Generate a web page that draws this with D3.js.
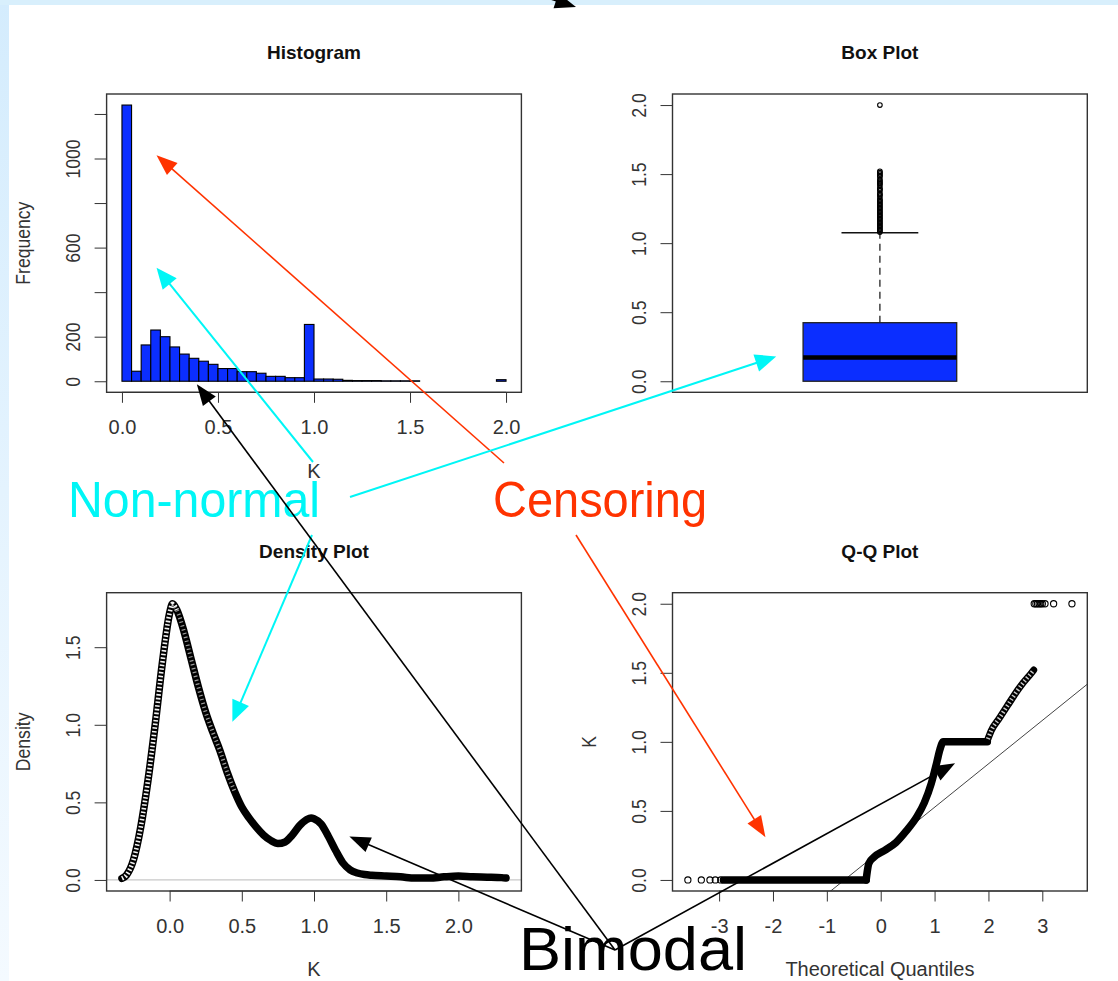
<!DOCTYPE html>
<html>
<head>
<meta charset="utf-8">
<script src="https://cdn.jsdelivr.net/npm/d3@7"></script>
<style>
  html, body { margin: 0; padding: 0; background: #fff; }
  svg { display: block; }
  text { font-family: "Liberation Sans", Arial, Helvetica, sans-serif; }
</style>
</head>
<body>
<svg id="chart" width="1118" height="981"></svg>
<script>
// ---------------- data ----------------
// Histogram of K: counts per 0.05-wide bin from 0 to 2
const histBinWidth = 0.05;
const histCounts = [1240, 45, 163, 230, 200, 154, 122, 103, 90, 76,
                    57, 57, 43, 43, 36, 22, 22, 16, 16, 255,
                    10, 10, 9, 4, 3, 3, 3, 2, 2, 2,
                    2, 0, 0, 0, 0, 0, 0, 0, 0, 7];
const histYTicks = [0, 200, 400, 600, 800, 1000, 1200];
const histYLabels = [0, 200, 600, 1000];
const kTicks = [0, 0.5, 1, 1.5, 2];

// Box plot summary of K
const boxHinges = [0, 0.424];
const boxMedian = 0.172;
const boxWhiskers = [0, 1.075];
const boxOutliers = [1.08, 1.09, 1.10, 1.11, 1.12, 1.13, 1.14, 1.15, 1.16, 1.17, 1.18, 1.19,
                     1.20, 1.21, 1.22, 1.23, 1.24, 1.25, 1.26, 1.27, 1.28, 1.29, 1.30,
                     1.31, 1.32, 1.34, 1.35, 1.36, 1.38, 1.39, 1.40, 1.42, 1.43, 1.44,
                     1.45, 1.46, 1.48, 1.49, 1.50, 1.51, 1.52, 2.0];
const boxTicks = [0, 0.5, 1, 1.5, 2];

// Kernel density estimate of K
const densityK = [-0.33, -0.30, -0.25, -0.20, -0.15, -0.10, -0.05, 0.00, 0.02, 0.05,
                  0.10, 0.15, 0.20, 0.25, 0.30, 0.35, 0.40, 0.45, 0.50, 0.55,
                  0.60, 0.65, 0.70, 0.75, 0.80, 0.85, 0.90, 0.95, 0.98, 1.00,
                  1.05, 1.10, 1.15, 1.20, 1.25, 1.30, 1.35, 1.40, 1.50, 1.60,
                  1.70, 1.80, 1.90, 2.00, 2.10, 2.20, 2.30, 2.33];
const densityValues = [0.01, 0.03, 0.13, 0.34, 0.64, 1.00, 1.40, 1.72, 1.78, 1.74,
                       1.60, 1.42, 1.24, 1.08, 0.95, 0.83, 0.69, 0.57, 0.47, 0.40,
                       0.34, 0.29, 0.255, 0.235, 0.245, 0.29, 0.35, 0.39, 0.40, 0.395,
                       0.36, 0.28, 0.19, 0.11, 0.065, 0.045, 0.035, 0.03, 0.025, 0.02,
                       0.012, 0.012, 0.02, 0.025, 0.02, 0.018, 0.015, 0.012];
const densityYTicks = [0, 0.5, 1, 1.5];

// Normal Q-Q plot of K
const qqLowTail = [-3.58, -3.33, -3.17, -3.07, -2.97];          // sample K = 0
const qqZeroRun = [-2.92, -0.27];                                 // sample K = 0
const qqCurveTheo = [-0.27, -0.25, -0.22, -0.125, 0.075, 0.28, 0.475, 0.675, 0.81, 0.94, 1.04, 1.10, 1.16, 1.20, 1.98];
const qqCurveK    = [0.0, 0.06, 0.12, 0.165, 0.215, 0.27, 0.355, 0.46, 0.56, 0.70, 0.85, 0.945, 1.0, 1.0, 1.0];
const qqUpperTheo = [1.99, 2.05, 2.2, 2.35, 2.5, 2.65, 2.8, 2.84];
const qqUpperK    = [1.02, 1.08, 1.17, 1.26, 1.35, 1.43, 1.50, 1.52];
const qqHighTail = [2.85, 2.88, 2.91, 2.94, 2.97, 3.0, 3.05, 3.21, 3.55]; // sample K = 2
const qqQuartileTheo = [-0.6745, 0.6745];
const qqQuartileK = [0, 0.424];
const qqXTicks = [-3, -2, -1, 0, 1, 2, 3];
const qqYTicks = [0, 0.5, 1, 1.5, 2];

// ---------------- layout ----------------
const W = 1118, H = 981;
const colLeft = [106.6, 672.5];
const rowTop = [94, 592.7];
const boxW = 414.8, boxH = 298.3;
const BLUE = "#0b2eff";
const fontTick = 20;

const svg = d3.select("#chart");
const defs = svg.append("defs");

// page background: pale blue frame with a white sheet
const grad = defs.append("linearGradient").attr("id", "frameGrad")
  .attr("x1", 0).attr("y1", 0).attr("x2", 0).attr("y2", 1);
grad.append("stop").attr("offset", 0).attr("stop-color", "#d4ecfd");
grad.append("stop").attr("offset", 1).attr("stop-color", "#f4faff");
svg.append("rect").attr("width", W).attr("height", H).attr("fill", "url(#frameGrad)");
svg.append("rect").attr("width", W).attr("height", 5).attr("fill", "#d8effc");
svg.append("rect").attr("x", 9).attr("y", 5).attr("width", W - 9).attr("height", H - 5).attr("fill", "#fff");

// R-style 4% range extension
const ext = ([a, b]) => [a - 0.04 * (b - a), b + 0.04 * (b - a)];

function makePanel(col, row, name, xdom, ydom) {
  const left = colLeft[col], top = rowTop[row];
  const x = d3.scaleLinear().domain(ext(xdom)).range([left, left + boxW]);
  const y = d3.scaleLinear().domain(ext(ydom)).range([top + boxH, top]);
  const cid = "clip-" + name;
  defs.append("clipPath").attr("id", cid)
    .append("rect").attr("x", left).attr("y", top).attr("width", boxW).attr("height", boxH);
  const g = svg.append("g");
  const plot = g.append("g").attr("clip-path", `url(#${cid})`);
  return { left, top, x, y, g, plot };
}

function frame(p, title) {
  p.g.append("rect").attr("x", p.left).attr("y", p.top).attr("width", boxW).attr("height", boxH)
    .attr("fill", "none").attr("stroke", "#333").attr("stroke-width", 1.4);
  p.g.append("text").attr("x", p.left + boxW / 2).attr("y", p.top - 35)
    .attr("text-anchor", "middle").attr("font-weight", "bold").attr("font-size", 19)
    .attr("fill", "#111").text(title);
}

function xAxis(p, ticks, fmt, label) {
  const ax = d3.axisBottom(p.x).tickValues(ticks).tickSize(10.5).tickSizeOuter(0).tickFormat(fmt);
  const g = p.g.append("g").attr("transform", `translate(0,${p.top + boxH})`).call(ax);
  g.select(".domain").remove();
  g.append("line").attr("x1", p.x(ticks[0])).attr("x2", p.x(ticks[ticks.length - 1]))
    .attr("stroke", "#333");
  g.selectAll(".tick line").attr("stroke", "#333");
  g.selectAll(".tick text").attr("y", 35).attr("dy", "0.36em")
    .attr("font-size", fontTick).attr("fill", "#333")
    .attr("font-family", '"Liberation Sans", Arial, sans-serif');
  if (label) {
    p.g.append("text").attr("x", p.left + boxW / 2).attr("y", p.top + boxH + 78).attr("dy", "0.36em")
      .attr("text-anchor", "middle").attr("font-size", fontTick).attr("fill", "#333").text(label);
  }
}

function yAxis(p, ticks, fmt, label) {
  const ax = d3.axisLeft(p.y).tickValues(ticks).tickSize(12).tickSizeOuter(0).tickFormat(fmt);
  const g = p.g.append("g").attr("transform", `translate(${p.left},0)`).call(ax);
  g.select(".domain").remove();
  g.append("line").attr("y1", p.y(ticks[0])).attr("y2", p.y(ticks[ticks.length - 1]))
    .attr("stroke", "#333");
  g.selectAll(".tick line").attr("stroke", "#333");
  g.selectAll(".tick text")
    .attr("x", 0).attr("y", 0)
    .attr("transform", "translate(-34,0) rotate(-90) scale(0.88,1)")
    .attr("text-anchor", "middle").attr("dy", "0.36em")
    .attr("font-size", fontTick).attr("fill", "#333")
    .attr("font-family", '"Liberation Sans", Arial, sans-serif');
  if (label) {
    p.g.append("text")
      .attr("transform", `translate(${p.left - 84},${p.top + boxH / 2}) rotate(-90) scale(0.88,1)`)
      .attr("text-anchor", "middle").attr("dy", "0.36em")
      .attr("font-size", fontTick).attr("fill", "#333").text(label);
  }
}

const fmt1 = d => d3.format(".1f")(d);

// ---------------- Histogram ----------------
const hist = makePanel(0, 0, "hist", [0, 2], [0, d3.max(histCounts)]);
hist.plot.selectAll("rect.bar").data(histCounts).join("rect").attr("class", "bar")
  .attr("x", (d, i) => hist.x(i * histBinWidth))
  .attr("width", (d, i) => hist.x((i + 1) * histBinWidth) - hist.x(i * histBinWidth))
  .attr("y", d => hist.y(d))
  .attr("height", d => hist.y(0) - hist.y(d))
  .attr("fill", BLUE).attr("stroke", "#000").attr("stroke-width", 1.1);
frame(hist, "Histogram");
xAxis(hist, kTicks, fmt1, "K");
yAxis(hist, histYTicks, d => histYLabels.includes(d) ? String(d) : "", "Frequency");

// ---------------- Box plot ----------------
const bp = makePanel(1, 0, "box", [0.5, 1.5], [0, 2]);
const boxCenter = 1, boxHalf = 0.2, stapleHalf = 0.1;
bp.plot.append("line")
  .attr("x1", bp.x(boxCenter)).attr("x2", bp.x(boxCenter))
  .attr("y1", bp.y(boxHinges[1])).attr("y2", bp.y(boxWhiskers[1]))
  .attr("stroke", "#222").attr("stroke-width", 1.3).attr("stroke-dasharray", "7,5");
bp.plot.append("line")
  .attr("x1", bp.x(boxCenter - stapleHalf)).attr("x2", bp.x(boxCenter + stapleHalf))
  .attr("y1", bp.y(boxWhiskers[1])).attr("y2", bp.y(boxWhiskers[1]))
  .attr("stroke", "#111").attr("stroke-width", 1.6);
bp.plot.append("rect")
  .attr("x", bp.x(boxCenter - boxHalf)).attr("width", bp.x(boxCenter + boxHalf) - bp.x(boxCenter - boxHalf))
  .attr("y", bp.y(boxHinges[1])).attr("height", bp.y(boxHinges[0]) - bp.y(boxHinges[1]))
  .attr("fill", BLUE).attr("stroke", "#222").attr("stroke-width", 1.3);
bp.plot.append("line")
  .attr("x1", bp.x(boxCenter - boxHalf)).attr("x2", bp.x(boxCenter + boxHalf))
  .attr("y1", bp.y(boxMedian)).attr("y2", bp.y(boxMedian))
  .attr("stroke", "#000").attr("stroke-width", 4.5);
bp.plot.selectAll("circle.out").data(boxOutliers).join("circle").attr("class", "out")
  .attr("cx", bp.x(boxCenter)).attr("cy", d => bp.y(d)).attr("r", 2.3)
  .attr("fill", "none").attr("stroke", "#000").attr("stroke-width", 1.1);
frame(bp, "Box Plot");
yAxis(bp, boxTicks, fmt1, null);

// ---------------- Density plot ----------------
const densityPts = densityK.map((k, i) => [k, densityValues[i]]);
const dp = makePanel(0, 1, "dens", d3.extent(densityK), [0, d3.max(densityValues)]);
dp.plot.append("line").attr("x1", dp.left).attr("x2", dp.left + boxW)
  .attr("y1", dp.y(0)).attr("y2", dp.y(0)).attr("stroke", "#c8c8c8").attr("stroke-width", 1.2);
const dLine = d3.line().x(d => dp.x(d[0])).y(d => dp.y(d[1])).curve(d3.curveMonotoneX);
dp.plot.append("path").attr("d", dLine(densityPts))
  .attr("fill", "none").attr("stroke", "#000").attr("stroke-width", 7.5)
  .attr("stroke-linecap", "round").attr("stroke-linejoin", "round");
// open-circle texture where the curve is steep
dp.plot.append("path").attr("d", dLine(densityPts.filter(d => d[0] <= 0.05)))
  .attr("fill", "none").attr("stroke", "#fff").attr("stroke-width", 4.6)
  .attr("stroke-dasharray", "1.6,2.1").attr("opacity", 0.95);
dp.plot.append("path").attr("d", dLine(densityPts.filter(d => d[0] >= 0.02 && d[0] <= 0.45)))
  .attr("fill", "none").attr("stroke", "#fff").attr("stroke-width", 4)
  .attr("stroke-dasharray", "1.2,2.8").attr("opacity", 0.6);
frame(dp, "Density Plot");
xAxis(dp, kTicks, fmt1, "K");
yAxis(dp, densityYTicks, fmt1, "Density");

// ---------------- Q-Q plot ----------------
const qp = makePanel(1, 1, "qq", [d3.min(qqLowTail), d3.max(qqHighTail)], [0, 2]);
const slope = (qqQuartileK[1] - qqQuartileK[0]) / (qqQuartileTheo[1] - qqQuartileTheo[0]);
const icpt = qqQuartileK[0] - slope * qqQuartileTheo[0];
const [qx0, qx1] = qp.x.domain();
qp.plot.append("line")
  .attr("x1", qp.x(qx0)).attr("y1", qp.y(icpt + slope * qx0))
  .attr("x2", qp.x(qx1)).attr("y2", qp.y(icpt + slope * qx1))
  .attr("stroke", "#444").attr("stroke-width", 1);
const qLine = d3.line().x(d => qp.x(d[0])).y(d => qp.y(d[1]));
const qCurve = d3.line().x(d => qp.x(d[0])).y(d => qp.y(d[1])).curve(d3.curveMonotoneX);
const runStyle = sel => sel.attr("fill", "none").attr("stroke", "#000").attr("stroke-width", 7.5)
  .attr("stroke-linecap", "round").attr("stroke-linejoin", "round");
qp.plot.append("path").attr("d", qLine(qqZeroRun.map(t => [t, 0]))).call(runStyle);
qp.plot.append("path").attr("d", qCurve(qqCurveTheo.map((t, i) => [t, qqCurveK[i]]))).call(runStyle);
const upperPts = qqUpperTheo.map((t, i) => [t, qqUpperK[i]]);
qp.plot.append("path").attr("d", qCurve(upperPts)).call(runStyle).attr("stroke-width", 7);
qp.plot.append("path").attr("d", qCurve(upperPts))
  .attr("fill", "none").attr("stroke", "#fff").attr("stroke-width", 4.2)
  .attr("stroke-dasharray", "1.4,2.4").attr("opacity", 0.8);
qp.plot.selectAll("circle.lo").data(qqLowTail).join("circle").attr("class", "lo")
  .attr("cx", d => qp.x(d)).attr("cy", qp.y(0)).attr("r", 3.1)
  .attr("fill", "none").attr("stroke", "#000").attr("stroke-width", 1.1);
qp.plot.selectAll("circle.hi").data(qqHighTail).join("circle").attr("class", "hi")
  .attr("cx", d => qp.x(d)).attr("cy", qp.y(2)).attr("r", 3.1)
  .attr("fill", "none").attr("stroke", "#000").attr("stroke-width", 1.1);
frame(qp, "Q-Q Plot");
xAxis(qp, qqXTicks, d => String(d), "Theoretical Quantiles");
yAxis(qp, qqYTicks, fmt1, "K");

// ---------------- annotations ----------------
const notes = svg.append("g");
function label(txt, x, y, size, color, len, family) {
  const t = notes.append("text").attr("x", x).attr("y", y).attr("font-size", size)
    .attr("fill", color).text(txt);
  if (family) t.attr("font-family", family);
  if (len) t.attr("textLength", len).attr("lengthAdjust", "spacingAndGlyphs");
}
function arrow(from, to, color, sw, len, half) {
  const dx = to[0] - from[0], dy = to[1] - from[1], L = Math.hypot(dx, dy);
  const ux = dx / L, uy = dy / L;
  const bx = to[0] - ux * len, by = to[1] - uy * len;
  notes.append("line").attr("x1", from[0]).attr("y1", from[1])
    .attr("x2", bx + ux * 3).attr("y2", by + uy * 3)
    .attr("stroke", color).attr("stroke-width", sw);
  notes.append("path")
    .attr("d", `M${to[0]},${to[1]}L${bx - uy * half},${by + ux * half}L${bx + uy * half},${by - ux * half}Z`)
    .attr("fill", color);
}
const narrow = '"Liberation Sans Narrow", "Arial Narrow", "Liberation Sans", Arial, sans-serif';
const CYAN = "#00f6f6", RED = "#ff3300";
label("Non-normal", 68, 517, 50, CYAN, 252, narrow);
label("Censoring", 493, 517, 50, RED, 214, narrow);
label("Bimodal", 519, 970, 62, "#000", 228, null);

// Censoring
arrow([504, 463], [hist.x(0.18), hist.y(1015)], RED, 1.6, 21, 8);
arrow([576, 535], [qp.x(-2.14), qp.y(0.31)], RED, 1.6, 21, 8);
// Non-normal
arrow([313, 462], [hist.x(0.18), hist.y(510)], CYAN, 2, 21, 9);
arrow([350, 497], [bp.x(0.73), bp.y(0.18)], CYAN, 2, 21, 9);
arrow([312, 535], [dp.x(0.435), dp.y(1.02)], CYAN, 2, 21, 9);
// Bimodal
const apex = [615, 950];
arrow(apex, [hist.x(0.39), hist.y(-14)], "#000", 1.6, 21, 8);
arrow(apex, [dp.x(1.245), dp.y(0.28)], "#000", 1.6, 21, 8);
arrow(apex, [qp.x(1.38), qp.y(0.845)], "#000", 1.6, 21, 8);
// pointer entering from above the sheet
arrow([500, -17], [576, 7], "#000", 1.6, 21, 8);
</script>
</body>
</html>
